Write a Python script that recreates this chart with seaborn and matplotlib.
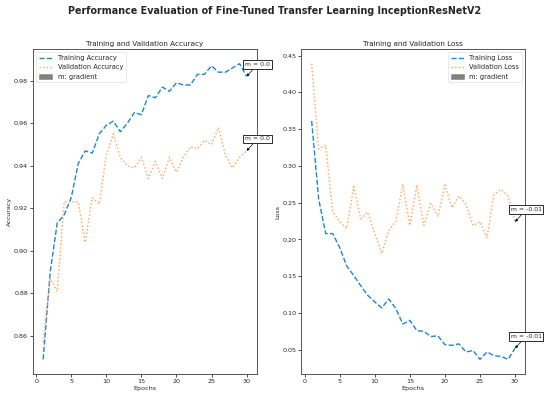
import matplotlib
matplotlib.use("Agg")
import matplotlib.pyplot as plt
import matplotlib.patches as mpatches
import seaborn as sns
import pandas as pd
import numpy as np

# Data
epochs = list(range(1, 31))

train_acc = [0.849, 0.890, 0.913, 0.917, 0.925, 0.941, 0.947, 0.946, 0.955, 0.959,
             0.961, 0.956, 0.960, 0.965, 0.964, 0.973, 0.972, 0.977, 0.975, 0.979,
             0.978, 0.978, 0.983, 0.983, 0.987, 0.984, 0.984, 0.986, 0.988, 0.982]
val_acc = [0.857, 0.887, 0.881, 0.923, 0.923, 0.923, 0.904, 0.925, 0.922, 0.945,
           0.955, 0.944, 0.940, 0.939, 0.944, 0.934, 0.942, 0.934, 0.944, 0.937,
           0.944, 0.949, 0.948, 0.952, 0.950, 0.958, 0.945, 0.939, 0.944, 0.947]

train_loss = [0.361, 0.255, 0.208, 0.208, 0.189, 0.164, 0.151, 0.137, 0.124, 0.115,
              0.107, 0.119, 0.106, 0.085, 0.090, 0.076, 0.075, 0.068, 0.069, 0.057,
              0.056, 0.058, 0.047, 0.049, 0.037, 0.047, 0.042, 0.041, 0.037, 0.052]
val_loss = [0.439, 0.323, 0.328, 0.238, 0.224, 0.215, 0.272, 0.228, 0.237, 0.208,
            0.181, 0.212, 0.224, 0.275, 0.219, 0.274, 0.219, 0.249, 0.231, 0.274,
            0.243, 0.259, 0.248, 0.219, 0.224, 0.202, 0.261, 0.268, 0.259, 0.224]

acc_gradients = ["m = 0.0", "m = 0.0"]
loss_gradients = ["m = -0.01", "m = -0.01"]

suptitle = "Performance Evaluation of Fine-Tuned Transfer Learning InceptionResNetV2"

blue = "#1f86cc"
orange = "#ffa04f"

sns.set_style("ticks")
plt.rcParams.update({"font.family": ["DejaVu Sans"],
                     "axes.edgecolor": "#555555",
                     "axes.linewidth": 1.8})

fig, axes = plt.subplots(1, 2, figsize=(14.3, 10.35), dpi=38.46)
fig.subplots_adjust(left=0.06, right=0.955, top=0.877, bottom=0.06, wspace=0.2)


def draw_panel(ax, train, val, names, grads, title, ylabel, loc):
    df = pd.DataFrame({"Epoch": epochs, "train": train, "val": val})
    sns.lineplot(data=df, x="Epoch", y="train", ax=ax, color=blue,
                 linestyle="--", linewidth=2.6, label=names[0])
    sns.lineplot(data=df, x="Epoch", y="val", ax=ax, color=orange,
                 linestyle=":", linewidth=2.6, label=names[1])

    # slope labels at last point of each series
    for series, grad in zip([train, val], grads):
        ax.annotate(grad, xy=(epochs[-1], series[-1]), xytext=(11, 12),
                    textcoords="offset pixels", ha="center", va="center",
                    fontsize=11.5, annotation_clip=False,
                    bbox=dict(boxstyle="square,pad=0.3", fc="white", ec="black", lw=1.5),
                    arrowprops=dict(arrowstyle="-|>", color="black", lw=1.2,
                                    mutation_scale=10, shrinkA=0, shrinkB=0))

    handles, labels = ax.get_legend_handles_labels()
    handles.append(mpatches.Patch(color="gray", label="m: gradient"))
    labels.append("m: gradient")
    ax.legend(handles, labels, loc=loc, fontsize=12.5)

    ax.set_title(title, fontsize=13.5)
    ax.set_xlabel("Epochs", fontsize=12)
    ax.set_ylabel(ylabel, fontsize=12)
    ax.set_xticks(range(0, 31, 5))
    ax.tick_params(labelsize=12, width=1.5, length=6)


draw_panel(axes[0], train_acc, val_acc, ["Training Accuracy", "Validation Accuracy"],
           acc_gradients, "Training and Validation Accuracy", "Accuracy", "upper left")
draw_panel(axes[1], train_loss, val_loss, ["Training Loss", "Validation Loss"],
           loss_gradients, "Training and Validation Loss", "Loss", "upper right")

fig.suptitle(suptitle, fontsize=18, fontweight="bold", y=0.985)

fig.savefig("out.png", dpi=38.46)
